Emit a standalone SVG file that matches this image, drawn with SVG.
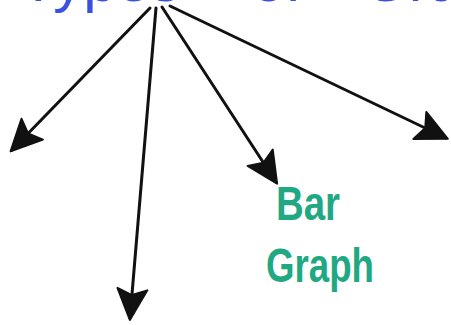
<svg xmlns="http://www.w3.org/2000/svg" width="451" height="325" viewBox="0 0 451 325">
<style>
.edge{stroke:#111;stroke-width:3;fill:none;stroke-linecap:round;marker-end:url(#ah)}
.title{fill:#3b4fe0;font-family:"Liberation Sans",Arial,sans-serif;font-size:60px}
.lbl{fill:#1fa882;font-family:"Liberation Sans",Arial,sans-serif;font-size:48px;font-weight:bold}
</style>
<defs>
<marker id="ah" markerUnits="userSpaceOnUse" markerWidth="36" markerHeight="36" viewBox="0 0 36 36" refX="32" refY="18" orient="auto">
<path d="M3,3 L34,18 L3,33 L9,18 Z" fill="#111" stroke="#111" stroke-width="2" stroke-linejoin="round"/>
</marker>
</defs>
<rect width="451" height="325" fill="#fff"/>
<g id="title">
<text class="title" y="1"><tspan x="20">Types</tspan><tspan x="252">of</tspan><tspan x="362">Graphs</tspan></text>
</g>
<g id="connectors">
<path class="edge" d="M150,8 L12,150"/>
<path class="edge" d="M156,8 L130,318"/>
<path class="edge" d="M162,7 L276,182"/>
<path class="edge" d="M170,6 L446,138"/>
</g>
<g id="bar-graph">
<text class="lbl" x="276" y="220" textLength="64" lengthAdjust="spacingAndGlyphs">Bar</text>
<text class="lbl" x="266" y="282" textLength="108" lengthAdjust="spacingAndGlyphs">Graph</text>
</g>
</svg>
